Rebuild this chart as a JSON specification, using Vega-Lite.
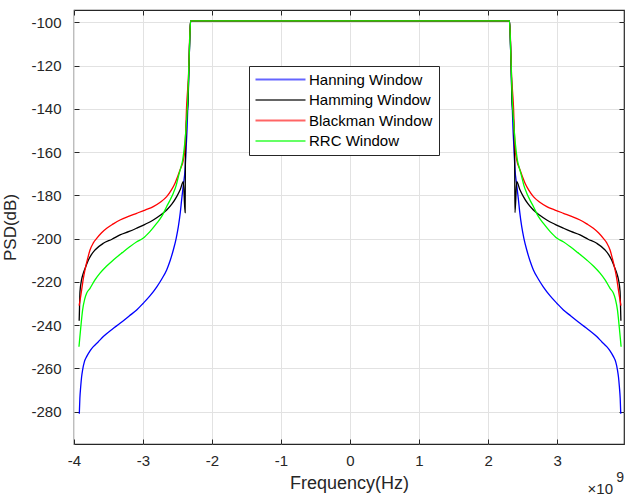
{
"$schema":"https://vega.github.io/schema/vega-lite/v6.json",
"width":550,"height":434,"autosize":"none",
"padding":{"left":74,"top":10,"right":1,"bottom":56},
"background":"white",
"config":{"view":{"stroke":"#262626","strokeWidth":1.2},"font":"Liberation Sans"},
"title":{"text":"×10\u2800","subtitle":"9","orient":"bottom","anchor":"end","frame":"group","fontSize":15,"fontWeight":"normal","color":"#262626","subtitleFontSize":14,"subtitleColor":"#262626","subtitlePadding":-26,"offset":-10},
"data":{"values":[
{"w":"Hanning Window","f":-3.923,"p":-281},{"w":"Hanning Window","f":-3.915,"p":-274},{"w":"Hanning Window","f":-3.903,"p":-268.5},{"w":"Hanning Window","f":-3.89,"p":-264},{"w":"Hanning Window","f":-3.875,"p":-260.7},{"w":"Hanning Window","f":-3.85,"p":-257},{"w":"Hanning Window","f":-3.817,"p":-254.6},{"w":"Hanning Window","f":-3.77,"p":-252},{"w":"Hanning Window","f":-3.72,"p":-250},{"w":"Hanning Window","f":-3.65,"p":-247.8},{"w":"Hanning Window","f":-3.575,"p":-245.3},{"w":"Hanning Window","f":-3.45,"p":-242},{"w":"Hanning Window","f":-3.333,"p":-239.2},{"w":"Hanning Window","f":-3.2,"p":-235.8},{"w":"Hanning Window","f":-3.092,"p":-233},{"w":"Hanning Window","f":-3.0,"p":-230},{"w":"Hanning Window","f":-2.9,"p":-226.5},{"w":"Hanning Window","f":-2.8,"p":-222.3},{"w":"Hanning Window","f":-2.73,"p":-218.8},{"w":"Hanning Window","f":-2.657,"p":-214.5},{"w":"Hanning Window","f":-2.61,"p":-210.5},{"w":"Hanning Window","f":-2.561,"p":-205.3},{"w":"Hanning Window","f":-2.52,"p":-200},{"w":"Hanning Window","f":-2.488,"p":-194.5},{"w":"Hanning Window","f":-2.46,"p":-188},{"w":"Hanning Window","f":-2.44,"p":-182},{"w":"Hanning Window","f":-2.415,"p":-175},{"w":"Hanning Window","f":-2.391,"p":-168.3},{"w":"Hanning Window","f":-2.375,"p":-158},{"w":"Hanning Window","f":-2.36,"p":-148},{"w":"Hanning Window","f":-2.35,"p":-138},{"w":"Hanning Window","f":-2.335,"p":-122},{"w":"Hanning Window","f":-2.32,"p":-105},{"w":"Hanning Window","f":-2.31,"p":-99.3},
{"w":"Hanning Window","f":2.31,"p":-99.3},{"w":"Hanning Window","f":2.32,"p":-105},{"w":"Hanning Window","f":2.335,"p":-122},{"w":"Hanning Window","f":2.35,"p":-138},{"w":"Hanning Window","f":2.36,"p":-148},{"w":"Hanning Window","f":2.375,"p":-158},{"w":"Hanning Window","f":2.391,"p":-168.3},{"w":"Hanning Window","f":2.415,"p":-175},{"w":"Hanning Window","f":2.44,"p":-182},{"w":"Hanning Window","f":2.46,"p":-188},{"w":"Hanning Window","f":2.488,"p":-194.5},{"w":"Hanning Window","f":2.52,"p":-200},{"w":"Hanning Window","f":2.561,"p":-205.3},{"w":"Hanning Window","f":2.61,"p":-210.5},{"w":"Hanning Window","f":2.657,"p":-214.5},{"w":"Hanning Window","f":2.73,"p":-218.8},{"w":"Hanning Window","f":2.8,"p":-222.3},{"w":"Hanning Window","f":2.9,"p":-226.5},{"w":"Hanning Window","f":3.0,"p":-230},{"w":"Hanning Window","f":3.092,"p":-233},{"w":"Hanning Window","f":3.2,"p":-235.8},{"w":"Hanning Window","f":3.333,"p":-239.2},{"w":"Hanning Window","f":3.45,"p":-242},{"w":"Hanning Window","f":3.575,"p":-245.3},{"w":"Hanning Window","f":3.65,"p":-247.8},{"w":"Hanning Window","f":3.72,"p":-250},{"w":"Hanning Window","f":3.77,"p":-252},{"w":"Hanning Window","f":3.817,"p":-254.6},{"w":"Hanning Window","f":3.85,"p":-257},{"w":"Hanning Window","f":3.875,"p":-260.7},{"w":"Hanning Window","f":3.89,"p":-264},{"w":"Hanning Window","f":3.903,"p":-268.5},{"w":"Hanning Window","f":3.915,"p":-274},{"w":"Hanning Window","f":3.923,"p":-281},
{"w":"Hamming Window","f":-3.925,"p":-238},{"w":"Hamming Window","f":-3.92,"p":-232},{"w":"Hamming Window","f":-3.913,"p":-224.5},{"w":"Hamming Window","f":-3.89,"p":-219},{"w":"Hamming Window","f":-3.865,"p":-216},{"w":"Hamming Window","f":-3.83,"p":-213},{"w":"Hamming Window","f":-3.793,"p":-210},{"w":"Hamming Window","f":-3.75,"p":-207.5},{"w":"Hamming Window","f":-3.696,"p":-205.3},{"w":"Hamming Window","f":-3.575,"p":-202.2},{"w":"Hamming Window","f":-3.45,"p":-200.3},{"w":"Hamming Window","f":-3.333,"p":-198.3},{"w":"Hamming Window","f":-3.2,"p":-196.7},{"w":"Hamming Window","f":-3.092,"p":-195.2},{"w":"Hamming Window","f":-2.97,"p":-193.4},{"w":"Hamming Window","f":-2.851,"p":-191.4},{"w":"Hamming Window","f":-2.75,"p":-189.2},{"w":"Hamming Window","f":-2.657,"p":-186.8},{"w":"Hamming Window","f":-2.58,"p":-184},{"w":"Hamming Window","f":-2.512,"p":-180.6},{"w":"Hamming Window","f":-2.46,"p":-177.3},{"w":"Hamming Window","f":-2.416,"p":-173.7},{"w":"Hamming Window","f":-2.39,"p":-188},{"w":"Hamming Window","f":-2.386,"p":-165},{"w":"Hamming Window","f":-2.375,"p":-149},{"w":"Hamming Window","f":-2.36,"p":-142},{"w":"Hamming Window","f":-2.345,"p":-135},{"w":"Hamming Window","f":-2.335,"p":-121},{"w":"Hamming Window","f":-2.32,"p":-105},{"w":"Hamming Window","f":-2.31,"p":-99.3},
{"w":"Hamming Window","f":2.31,"p":-99.3},{"w":"Hamming Window","f":2.32,"p":-105},{"w":"Hamming Window","f":2.335,"p":-121},{"w":"Hamming Window","f":2.345,"p":-135},{"w":"Hamming Window","f":2.36,"p":-142},{"w":"Hamming Window","f":2.375,"p":-149},{"w":"Hamming Window","f":2.386,"p":-165},{"w":"Hamming Window","f":2.39,"p":-188},{"w":"Hamming Window","f":2.416,"p":-173.7},{"w":"Hamming Window","f":2.46,"p":-177.3},{"w":"Hamming Window","f":2.512,"p":-180.6},{"w":"Hamming Window","f":2.58,"p":-184},{"w":"Hamming Window","f":2.657,"p":-186.8},{"w":"Hamming Window","f":2.75,"p":-189.2},{"w":"Hamming Window","f":2.851,"p":-191.4},{"w":"Hamming Window","f":2.97,"p":-193.4},{"w":"Hamming Window","f":3.092,"p":-195.2},{"w":"Hamming Window","f":3.2,"p":-196.7},{"w":"Hamming Window","f":3.333,"p":-198.3},{"w":"Hamming Window","f":3.45,"p":-200.3},{"w":"Hamming Window","f":3.575,"p":-202.2},{"w":"Hamming Window","f":3.696,"p":-205.3},{"w":"Hamming Window","f":3.75,"p":-207.5},{"w":"Hamming Window","f":3.793,"p":-210},{"w":"Hamming Window","f":3.83,"p":-213},{"w":"Hamming Window","f":3.865,"p":-216},{"w":"Hamming Window","f":3.89,"p":-219},{"w":"Hamming Window","f":3.913,"p":-224.5},{"w":"Hamming Window","f":3.92,"p":-232},{"w":"Hamming Window","f":3.925,"p":-238},
{"w":"Blackman Window","f":-3.925,"p":-231},{"w":"Blackman Window","f":-3.915,"p":-229},{"w":"Blackman Window","f":-3.9,"p":-226},{"w":"Blackman Window","f":-3.889,"p":-223.7},{"w":"Blackman Window","f":-3.865,"p":-218.5},{"w":"Blackman Window","f":-3.841,"p":-214.5},{"w":"Blackman Window","f":-3.8,"p":-209},{"w":"Blackman Window","f":-3.768,"p":-205.3},{"w":"Blackman Window","f":-3.72,"p":-202},{"w":"Blackman Window","f":-3.671,"p":-199.9},{"w":"Blackman Window","f":-3.6,"p":-197.3},{"w":"Blackman Window","f":-3.526,"p":-195.2},{"w":"Blackman Window","f":-3.43,"p":-193.2},{"w":"Blackman Window","f":-3.333,"p":-191.4},{"w":"Blackman Window","f":-3.2,"p":-189.6},{"w":"Blackman Window","f":-3.092,"p":-188.3},{"w":"Blackman Window","f":-2.97,"p":-186.8},{"w":"Blackman Window","f":-2.851,"p":-185.2},{"w":"Blackman Window","f":-2.75,"p":-183.2},{"w":"Blackman Window","f":-2.657,"p":-180.6},{"w":"Blackman Window","f":-2.59,"p":-177.6},{"w":"Blackman Window","f":-2.536,"p":-174.4},{"w":"Blackman Window","f":-2.5,"p":-171.5},{"w":"Blackman Window","f":-2.464,"p":-168.3},{"w":"Blackman Window","f":-2.416,"p":-163.7},{"w":"Blackman Window","f":-2.395,"p":-159},{"w":"Blackman Window","f":-2.38,"p":-150},{"w":"Blackman Window","f":-2.37,"p":-140},{"w":"Blackman Window","f":-2.355,"p":-132},{"w":"Blackman Window","f":-2.34,"p":-124},{"w":"Blackman Window","f":-2.325,"p":-108},{"w":"Blackman Window","f":-2.31,"p":-99.3},
{"w":"Blackman Window","f":2.31,"p":-99.3},{"w":"Blackman Window","f":2.325,"p":-108},{"w":"Blackman Window","f":2.34,"p":-124},{"w":"Blackman Window","f":2.355,"p":-132},{"w":"Blackman Window","f":2.37,"p":-140},{"w":"Blackman Window","f":2.38,"p":-150},{"w":"Blackman Window","f":2.395,"p":-159},{"w":"Blackman Window","f":2.416,"p":-163.7},{"w":"Blackman Window","f":2.464,"p":-168.3},{"w":"Blackman Window","f":2.5,"p":-171.5},{"w":"Blackman Window","f":2.536,"p":-174.4},{"w":"Blackman Window","f":2.59,"p":-177.6},{"w":"Blackman Window","f":2.657,"p":-180.6},{"w":"Blackman Window","f":2.75,"p":-183.2},{"w":"Blackman Window","f":2.851,"p":-185.2},{"w":"Blackman Window","f":2.97,"p":-186.8},{"w":"Blackman Window","f":3.092,"p":-188.3},{"w":"Blackman Window","f":3.2,"p":-189.6},{"w":"Blackman Window","f":3.333,"p":-191.4},{"w":"Blackman Window","f":3.43,"p":-193.2},{"w":"Blackman Window","f":3.526,"p":-195.2},{"w":"Blackman Window","f":3.6,"p":-197.3},{"w":"Blackman Window","f":3.671,"p":-199.9},{"w":"Blackman Window","f":3.72,"p":-202},{"w":"Blackman Window","f":3.768,"p":-205.3},{"w":"Blackman Window","f":3.8,"p":-209},{"w":"Blackman Window","f":3.841,"p":-214.5},{"w":"Blackman Window","f":3.865,"p":-218.5},{"w":"Blackman Window","f":3.889,"p":-223.7},{"w":"Blackman Window","f":3.9,"p":-226},{"w":"Blackman Window","f":3.915,"p":-229},{"w":"Blackman Window","f":3.925,"p":-231},
{"w":"RRC Window","f":-3.928,"p":-250},{"w":"RRC Window","f":-3.915,"p":-245.5},{"w":"RRC Window","f":-3.903,"p":-241.5},{"w":"RRC Window","f":-3.875,"p":-233},{"w":"RRC Window","f":-3.845,"p":-228},{"w":"RRC Window","f":-3.817,"p":-225.3},{"w":"RRC Window","f":-3.768,"p":-223},{"w":"RRC Window","f":-3.696,"p":-219.1},{"w":"RRC Window","f":-3.623,"p":-216},{"w":"RRC Window","f":-3.53,"p":-212.8},{"w":"RRC Window","f":-3.43,"p":-209.9},{"w":"RRC Window","f":-3.3,"p":-206.5},{"w":"RRC Window","f":-3.188,"p":-203.7},{"w":"RRC Window","f":-3.09,"p":-201.5},{"w":"RRC Window","f":-3.0,"p":-199.9},{"w":"RRC Window","f":-2.9,"p":-196.8},{"w":"RRC Window","f":-2.8,"p":-192.9},{"w":"RRC Window","f":-2.72,"p":-189.3},{"w":"RRC Window","f":-2.657,"p":-185.2},{"w":"RRC Window","f":-2.6,"p":-181.7},{"w":"RRC Window","f":-2.561,"p":-179},{"w":"RRC Window","f":-2.52,"p":-175.5},{"w":"RRC Window","f":-2.488,"p":-171.4},{"w":"RRC Window","f":-2.455,"p":-167.5},{"w":"RRC Window","f":-2.425,"p":-163.7},{"w":"RRC Window","f":-2.395,"p":-156},{"w":"RRC Window","f":-2.37,"p":-146},{"w":"RRC Window","f":-2.35,"p":-135},{"w":"RRC Window","f":-2.335,"p":-120},{"w":"RRC Window","f":-2.32,"p":-105},{"w":"RRC Window","f":-2.31,"p":-99.3},
{"w":"RRC Window","f":2.31,"p":-99.3},{"w":"RRC Window","f":2.32,"p":-105},{"w":"RRC Window","f":2.335,"p":-120},{"w":"RRC Window","f":2.35,"p":-135},{"w":"RRC Window","f":2.37,"p":-146},{"w":"RRC Window","f":2.395,"p":-156},{"w":"RRC Window","f":2.425,"p":-163.7},{"w":"RRC Window","f":2.455,"p":-167.5},{"w":"RRC Window","f":2.488,"p":-171.4},{"w":"RRC Window","f":2.52,"p":-175.5},{"w":"RRC Window","f":2.561,"p":-179},{"w":"RRC Window","f":2.6,"p":-181.7},{"w":"RRC Window","f":2.657,"p":-185.2},{"w":"RRC Window","f":2.72,"p":-189.3},{"w":"RRC Window","f":2.8,"p":-192.9},{"w":"RRC Window","f":2.9,"p":-196.8},{"w":"RRC Window","f":3.0,"p":-199.9},{"w":"RRC Window","f":3.09,"p":-201.5},{"w":"RRC Window","f":3.188,"p":-203.7},{"w":"RRC Window","f":3.3,"p":-206.5},{"w":"RRC Window","f":3.43,"p":-209.9},{"w":"RRC Window","f":3.53,"p":-212.8},{"w":"RRC Window","f":3.623,"p":-216},{"w":"RRC Window","f":3.696,"p":-219.1},{"w":"RRC Window","f":3.768,"p":-223},{"w":"RRC Window","f":3.817,"p":-225.3},{"w":"RRC Window","f":3.845,"p":-228},{"w":"RRC Window","f":3.875,"p":-233},{"w":"RRC Window","f":3.903,"p":-241.5},{"w":"RRC Window","f":3.915,"p":-245.5},{"w":"RRC Window","f":3.928,"p":-250}
]},
"layer":[
{"mark":{"type":"line","strokeWidth":1.3,"clip":true,"interpolate":"monotone"},
 "encoding":{
  "x":{"field":"f","type":"quantitative","scale":{"domain":[-4,3.97],"nice":false,"zero":false},
       "axis":{"values":[-4,-3,-2,-1,0,1,2,3],"labelExpr":"'' + datum.value","title":"Frequency(Hz)","grid":true,"gridColor":"#e2e2e2","domain":false,"tickSize":-5,"tickColor":"#262626","labelFontSize":15,"labelColor":"#262626","labelPadding":14,"labelFlush":false,"titleFontSize":18,"titleFontWeight":"normal","titleColor":"#262626","titlePadding":6}},
  "y":{"field":"p","type":"quantitative","scale":{"domain":[-295,-94.3],"nice":false,"zero":false},
       "axis":{"values":[-280,-260,-240,-220,-200,-180,-160,-140,-120,-100],"labelExpr":"'' + datum.value","title":"PSD(dB)","grid":true,"gridColor":"#e2e2e2","domain":false,"tickSize":-5,"tickColor":"#262626","labelFontSize":15,"labelColor":"#262626","labelPadding":18,"titleFontSize":17,"titleFontWeight":"normal","titleColor":"#262626","titlePadding":11}},
  "color":{"field":"w","type":"nominal","scale":{"domain":["Hanning Window","Hamming Window","Blackman Window","RRC Window"],"range":["#0000ff","#000000","#ff0000","#00ff00"]},
       "legend":{"orient":"none","legendX":175,"legendY":56,"title":null,"symbolType":"M-1.4,0H8.6","symbolSize":100,"symbolStrokeWidth":1.8,"symbolOpacity":0.6,"labelFontSize":15,"labelFont":"Liberation Sans","labelColor":"#000000","labelOffset":39,"padding":6,"rowPadding":4.5,"strokeColor":"#262626","fillColor":"white","cornerRadius":0}}
 }},
{"mark":{"type":"point","opacity":0},
 "encoding":{
  "x":{"field":"f","type":"quantitative","scale":{"domain":[-4,3.97],"nice":false,"zero":false},
       "axis":{"orient":"top","values":[-4,-3,-2,-1,0,1,2,3],"title":null,"labels":false,"grid":false,"domain":false,"tickSize":5,"tickColor":"#262626","offset":-5}},
  "y":{"field":"p","type":"quantitative","scale":{"domain":[-295,-94.3],"nice":false,"zero":false},
       "axis":{"orient":"right","values":[-280,-260,-240,-220,-200,-180,-160,-140,-120,-100],"title":null,"labels":false,"grid":false,"domain":false,"tickSize":5,"tickColor":"#262626","offset":-5}}
 }}
],
"resolve":{"axis":{"x":"independent","y":"independent"}}
}
